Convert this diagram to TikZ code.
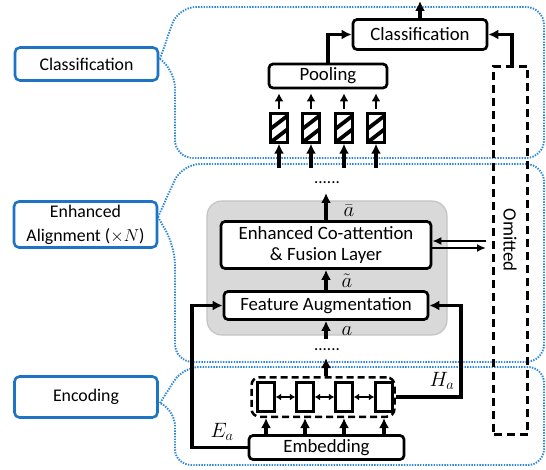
\documentclass[tikz,border=0pt]{standalone}
\usepackage{fontspec}
\setmainfont{Carlito}
\usetikzlibrary{arrows.meta}

\definecolor{lblblue}{RGB}{30,116,196}
\definecolor{dotblue}{RGB}{45,135,215}
\definecolor{panelgray}{RGB}{217,217,217}
\definecolor{paneledge}{RGB}{195,195,195}

\tikzset{
  mainbox/.style={draw=black, line width=2.7pt, rounded corners=4pt, fill=white,
    inner sep=0pt, align=center, font=\fontsize{18.8}{21.7}\selectfont},
  sidebox/.style={draw=lblblue, line width=2.6pt, rounded corners=5pt, fill=white,
    inner sep=0pt, align=center, minimum width=143pt, font=\fontsize{17.8}{24}\selectfont},
  callout/.style={draw=dotblue, line width=1.9pt, dash pattern=on 1.4pt off 1.3pt},
  flow/.style={line width=3.3pt, -{Latex[length=10pt,width=10pt]}},
  smallflow/.style={line width=2.9pt, -{Latex[length=8pt,width=9pt]}},
  thinflow/.style={line width=2.2pt, -{Latex[length=9pt,width=8pt]}},
  biflow/.style={line width=2.4pt, {Latex[length=5.5pt,width=7pt]}-{Latex[length=5.5pt,width=7pt]}},
  cell/.style={draw=black, line width=2.8pt, fill=white, minimum width=16.5pt,
    minimum height=28.5pt, inner sep=0pt},
  hatchcell/.style={cell, path picture={
    \draw[line width=3.8pt]
      ([shift={(-4pt,-3pt)}]path picture bounding box.south west) --
      ([shift={(22pt,17pt)}]path picture bounding box.south west)
      ([shift={(-4pt,10.5pt)}]path picture bounding box.south west) --
      ([shift={(22pt,30.5pt)}]path picture bounding box.south west);}},
  mathlbl/.style={font=\fontsize{21}{21}\selectfont, inner sep=0pt},
  dotrow/.style={font=\fontsize{17}{17}\selectfont, inner sep=0pt, anchor=base},
  omitbox/.style={draw=black, line width=2.8pt, dash pattern=on 8pt off 5pt,
    minimum width=34pt, minimum height=368pt, inner sep=0pt},
}

\begin{document}
\begin{tikzpicture}[x=1pt,y=-1pt]
\useasboundingbox (0,0) rectangle (546,470);

% dotted callout regions
\draw[callout] (160,59) [rounded corners=18pt] -- (178,7) -- (544,7) -- (544,158)
  -- (175,158) -- (175,70) [sharp corners] -- (160,59);
\draw[callout] (158,217) [rounded corners=18pt] -- (182,164) -- (544,164) -- (544,362)
  -- (175,362) -- (175,247) [sharp corners] -- (158,217);
\draw[callout] (160,403) [rounded corners=16pt] -- (183,367) -- (544,367) -- (544,465)
  -- (175,465) -- (175,410) [sharp corners] -- (160,403);

% stage labels
\node[sidebox, minimum height=33pt] (lcls) at (86.5,64) {Classification};
\node[sidebox, minimum height=46pt] (lali) at (85.5,224.5) {Enhanced\\Alignment ($\times N$)};
\node[sidebox, minimum height=41pt] (lenc) at (86,397) {Encoding};

% shaded alignment block
\node[draw=paneledge, fill=panelgray, line width=1.2pt, rounded corners=15pt,
  minimum width=240pt, minimum height=134pt, inner sep=0pt] (panel) at (327,268) {};

% main boxes
\node[mainbox, minimum width=134pt, minimum height=30pt] (cls) at (420,34.5) {Classification};
\node[mainbox, minimum width=118pt, minimum height=24pt] (pool) at (328,76) {Pooling};
\node[mainbox, minimum width=210pt, minimum height=47pt] (coatt) at (326,245)
  {Enhanced Co-attention\\\& Fusion Layer};
\node[mainbox, minimum width=204pt, minimum height=28pt] (fa) at (326,305.5) {Feature Augmentation};
\node[mainbox, minimum width=155pt, minimum height=24pt] (emb) at (326.5,447.5) {Embedding};

% encoder group
\node[draw, line width=2.5pt, dash pattern=on 7pt off 4pt, rounded corners=8pt,
  minimum width=143pt, minimum height=39.5pt, inner sep=0pt] (grp) at (323,397) {};
\node[cell] (c1) at (266,397) {};
\node[cell] (c2) at (305,397) {};
\node[cell] (c3) at (344,397) {};
\node[cell] (c4) at (384,397) {};

% pooled vectors
\node[hatchcell] (hc1) at (279,128) {};
\node[hatchcell] (hc2) at (311,128) {};
\node[hatchcell] (hc3) at (344,128) {};
\node[hatchcell] (hc4) at (376,128) {};

% omitted branch
\node[omitbox] (omit) at (510.5,250.5) {};
\node[font=\fontsize{18.8}{22}\selectfont, rotate=-90, inner sep=0pt] (omtxt) at (510,240) {Omitted};

% labels
\node[mathlbl] (lbar) at (349,211) {$\bar{a}$};
\node[mathlbl] (ltil) at (347,281) {$\tilde{a}$};
\node[mathlbl] (lpl) at (347,331) {$a$};
\node[mathlbl] (lea) at (222,432) {$E_a$};
\node[mathlbl] (lha) at (442,381) {$H_a$};
\node[dotrow] (dtop) at (327,184) {......};
\node[dotrow] (dbot) at (327,350) {......};

% free ends
\coordinate (clsout) at (420,1);
\coordinate (omtop) at (512,66);
\coordinate (aout) at (326,193);
\coordinate (ain) at (326,339);
\coordinate (gout) at (326,358);
\coordinate (hr) at (461,397);
\coordinate (el) at (192,447.5);
\coordinate (dl1) at (486,241);
\coordinate (dl2) at (486,248);
\coordinate (hb1) at (279,168);
\coordinate (hb2) at (311,168);
\coordinate (hb3) at (344,168);
\coordinate (hb4) at (376,168);

% connectors
\draw[flow] (cls.north) -- (clsout);
\draw[flow] (pool.north) |- (cls.west);
\draw[flow] (omtop) |- (cls.east);
\foreach \i in {1,2,3,4}{
  \draw[smallflow] ([yshift=3pt]hc\i.north) -- ([yshift=19pt]hc\i.north);
  \draw[flow] (hb\i) -- (hc\i.south);
  \draw[flow] (c\i |- emb.north) -- (c\i |- grp.south);
}
\draw[flow] (coatt.north) -- (aout);
\draw[flow] (fa.north) -- (coatt.south);
\draw[flow] (ain) -- (fa.south);
\draw[flow] (gout |- grp.north) -- (gout);
\draw[thinflow] (dl1) -- (dl1 -| coatt.east);
\draw[thinflow] (coatt.east |- dl2) -- (dl2);
\draw[flow] (grp.east) -- (hr) |- (fa.east);
\draw[flow] (emb.west) -- (el) |- (fa.west);
\draw[biflow] (c1.east) -- (c2.west);
\draw[biflow] (c2.east) -- (c3.west);
\draw[biflow] (c3.east) -- (c4.west);
\end{tikzpicture}
\end{document}
